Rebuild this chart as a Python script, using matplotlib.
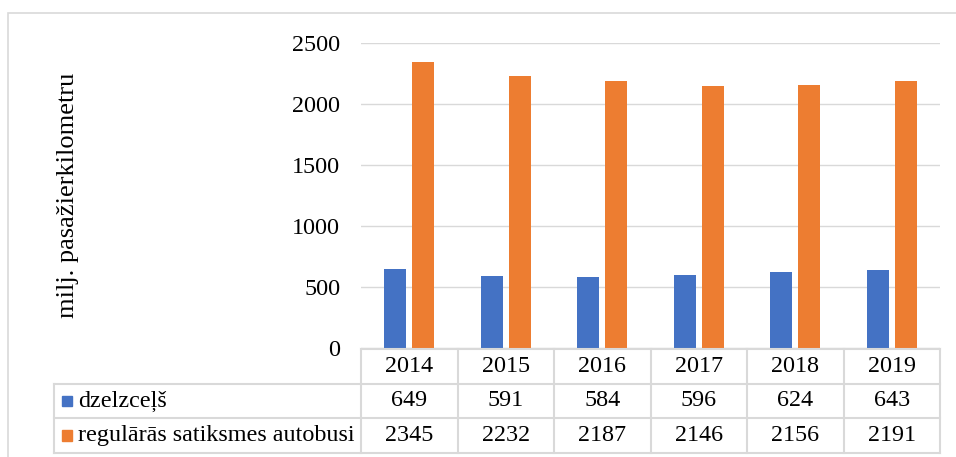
import numpy as np
import matplotlib.pyplot as plt
from matplotlib.patches import Rectangle

# ---------- data ----------
years = ['2014', '2015', '2016', '2017', '2018', '2019']
rail = [649, 591, 584, 596, 624, 643]
bus = [2345, 2232, 2187, 2146, 2156, 2191]
series_names = ['dzelzceļš', 'regulārās satiksmes autobusi']
y_ticks = [0, 500, 1000, 1500, 2000, 2500]
y_label = 'milj. pasažierkilometru'

blue = '#4472C4'
orange = '#ED7D31'
grid_col = '#d9d9d9'
fs = 17.4

plt.rcParams['font.family'] = ['Liberation Serif', 'DejaVu Serif']

W, H = 956, 457
fig = plt.figure(figsize=(W / 100, H / 100), dpi=100)


def fx(px):
    return px / W


def fy(py):
    return 1 - py / H


# outer frame (runs off right/bottom edge like the source)
fig.patches.append(Rectangle((fx(8), fy(470)), fx(1000), fy(13) - fy(470),
                             transform=fig.transFigure, fill=False,
                             edgecolor=grid_col, lw=1.2))

# ---------- bar chart ----------
left, right, top, bottom = 361, 940, 43, 348
ax = fig.add_axes([fx(left), fy(bottom), fx(right - left), fy(top) - fy(bottom)])
x = np.arange(len(years))
w = 0.228
ax.bar(x - 0.143, rail, width=w, color=blue, zorder=3)
ax.bar(x + 0.143, bus, width=w, color=orange, zorder=3)
ax.set_xlim(-0.5, len(years) - 0.5)
ax.set_ylim(0, 2500)
ax.set_yticks(y_ticks)
ax.tick_params(axis='y', length=0, pad=15, labelsize=fs)
ax.set_xticks([])
ax.grid(axis='y', color=grid_col, lw=1.0, zorder=0)
for s in ax.spines.values():
    s.set_visible(False)

fig.text(fx(68), fy(195), y_label, rotation=90, ha='center', va='center',
         fontsize=19)

# ---------- data table ----------
tleft, ttop, tbottom = 54, 349, 453
col_w = (right - left) / len(years)
lab_w = (left - tleft) / col_w
tab = fig.add_axes([fx(tleft), fy(tbottom), fx(right - tleft), fy(ttop) - fy(tbottom)])
tab.set_xlim(-0.5 - lab_w, len(years) - 0.5)
tab.set_ylim(3, 0)
tab.axis('off')

lw = 1.5
# horizontal lines
tab.plot([-0.5, len(years) - 0.5], [0, 0], color=grid_col, lw=lw, clip_on=False)
for r in [1, 2, 3]:
    tab.plot([-0.5 - lab_w, len(years) - 0.5], [r, r], color=grid_col, lw=lw,
             clip_on=False)
# vertical lines
tab.plot([-0.5 - lab_w] * 2, [1, 3], color=grid_col, lw=lw, clip_on=False)
for c in range(len(years) + 1):
    tab.plot([c - 0.5] * 2, [0, 3], color=grid_col, lw=lw, clip_on=False)

for i, yr in enumerate(years):
    tab.text(i, 0.5, yr, ha='center', va='center', fontsize=fs)
    tab.text(i, 1.5, str(rail[i]), ha='center', va='center', fontsize=fs)
    tab.text(i, 2.5, str(bus[i]), ha='center', va='center', fontsize=fs)

for r, (name, col) in enumerate(zip(series_names, [blue, orange])):
    yc = 1.5 + r
    x0 = -0.5 - lab_w + 8 / col_w
    tab.add_patch(Rectangle((x0, yc - 0.15), 10 / col_w, 0.3,
                            color=col, clip_on=False))
    tab.text(x0 + 16 / col_w, yc, name, ha='left', va='center', fontsize=fs)

fig.savefig('out.png', dpi=100)
